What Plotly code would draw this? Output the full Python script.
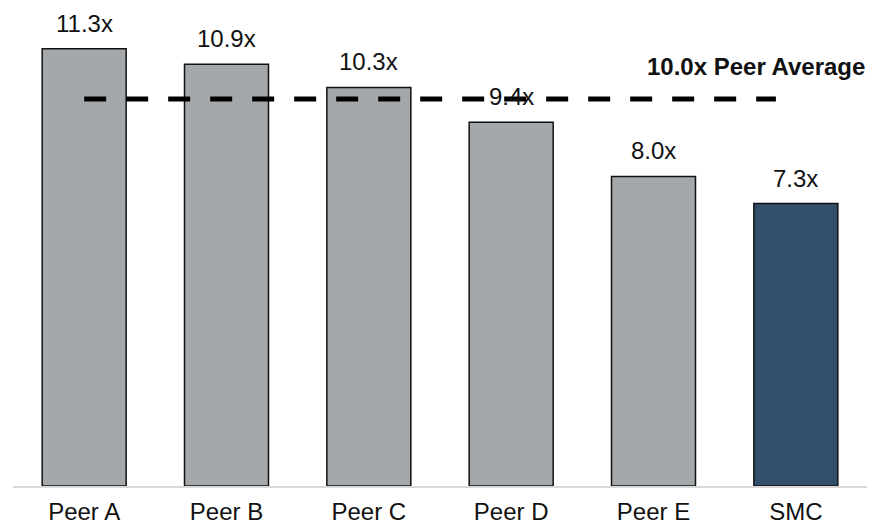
import plotly.graph_objects as go

categories = ["Peer A", "Peer B", "Peer C", "Peer D", "Peer E", "SMC"]
multiples = [11.3, 10.9, 10.3, 9.4, 8.0, 7.3]
labels = ["11.3x", "10.9x", "10.3x", "9.4x", "8.0x", "7.3x"]
peer_average = 10.0
peer_average_label = "10.0x Peer Average"

gray = "#A5A8AB"
navy = "#334E6B"
colors = [gray] * 5 + [navy]

FONT = "Liberation Sans, Arial, sans-serif"

fig = go.Figure()
fig.add_trace(go.Bar(
    x=list(range(len(categories))),
    y=multiples,
    width=0.59,
    marker=dict(color=colors, line=dict(color="#111111", width=1.5)),
    hoverinfo="skip",
))

for i, (v, t) in enumerate(zip(multiples, labels)):
    fig.add_annotation(x=i, y=v, text=t, showarrow=False, xref="x", yref="y",
                       yanchor="bottom", yshift=10,
                       font=dict(family=FONT, size=24, color="#111111"))

fig.add_shape(type="line", xref="x", yref="y", x0=0, x1=4.86,
              y0=peer_average, y1=peer_average,
              line=dict(color="#000000", width=5, dash="22px,20px"))

fig.add_annotation(x=1, xref="paper", xanchor="right", y=peer_average, yref="y",
                   yanchor="bottom", yshift=17, showarrow=False,
                   text="<b>" + peer_average_label + "</b>",
                   font=dict(family=FONT, size=24, color="#111111"))

fig.update_layout(
    width=869, height=522,
    margin=dict(l=13, r=2, t=10, b=36),
    paper_bgcolor="white", plot_bgcolor="white",
    showlegend=False,
    xaxis=dict(range=[-0.5, 5.5], tickmode="array",
               tickvals=list(range(len(categories))), ticktext=categories,
               showgrid=False, zeroline=False, showline=True,
               linecolor="#D9D9D9", linewidth=1.5, ticks="",
               ticklabelstandoff=3, automargin=False,
               tickfont=dict(family=FONT, size=24, color="#111111")),
    yaxis=dict(range=[0, 12.3], visible=False, showgrid=False, zeroline=False,
               automargin=False),
)

fig.write_html("out.html", config={"displayModeBar": False},
               post_script="document.body.style.margin='0px';document.body.style.overflow='hidden';")
